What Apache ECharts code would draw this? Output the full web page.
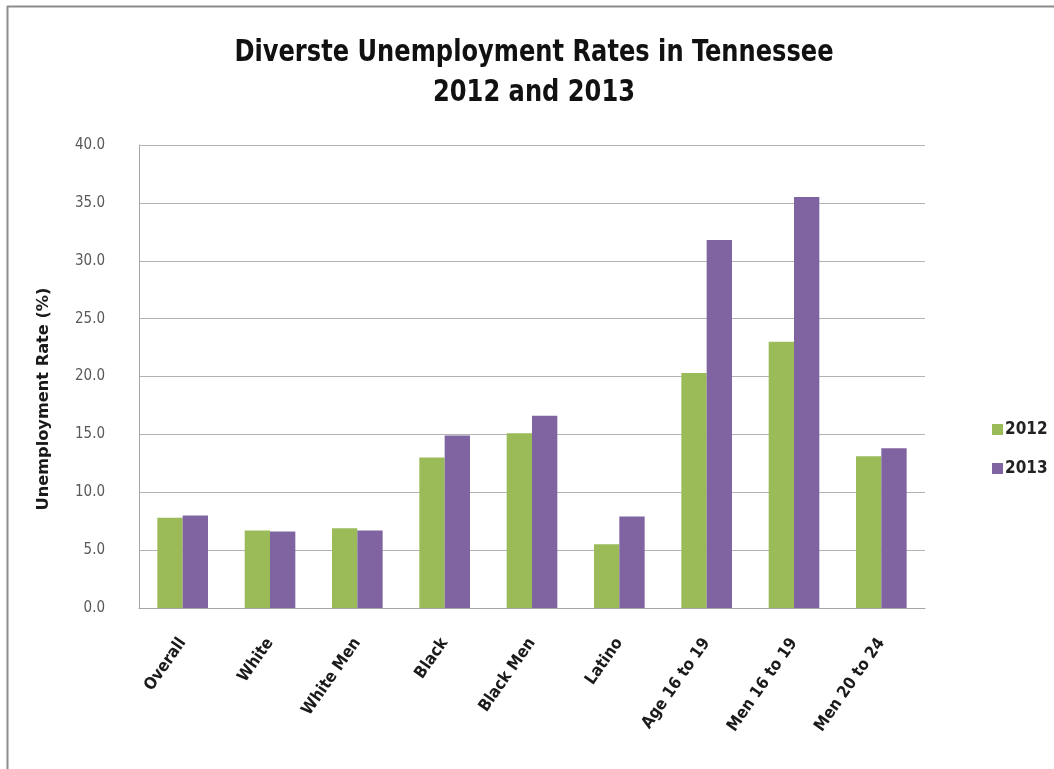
<!DOCTYPE html>
<html><head><meta charset="utf-8">
<script src="https://cdn.jsdelivr.net/npm/echarts@6/dist/echarts.min.js"></script>
<style>html,body{margin:0;padding:0;background:#fff}#c{width:1054px;height:769px}</style>
</head><body><div id="c"></div>
<script>
const categories = ['Overall','White','White Men','Black','Black Men','Latino','Age 16 to 19','Men 16 to 19','Men 20 to 24'];
const values2012 = [7.8, 6.7, 6.9, 13.0, 15.1, 5.5, 20.3, 23.0, 13.1];
const values2013 = [8.0, 6.6, 6.7, 14.9, 16.6, 7.9, 31.8, 35.5, 13.8];
const seriesNames = ['2012', '2013'];
const titleLines = ['Diverste Unemployment Rates in Tennessee', '2012 and 2013'];
const yAxisName = 'Unemployment Rate (%)';
const yTicks = {min: 0, max: 40, interval: 5};

const chart = echarts.init(document.getElementById('c'), null, {renderer: 'canvas'});
const condensed = "'DejaVu Sans Condensed','Open Sans',sans-serif";
chart.setOption({
  backgroundColor: '#fff',
  animation: false,
  legend: {
    orient: 'vertical', left: 987, top: 416, itemGap: 22,
    itemWidth: 11, itemHeight: 11, icon: 'rect',
    textStyle: {fontFamily: condensed, fontWeight: 'bold', fontSize: 17, color: '#222', padding: [0,0,0,-3]},
    data: seriesNames
  },
  grid: {left: 139, right: 129, top: 145, bottom: 161, containLabel: false},
  xAxis: {
    type: 'category', data: categories,
    axisLine: {lineStyle: {color: '#a6a6a6', width: 1}},
    axisTick: {show: false},
    axisLabel: {rotate: 55, interval: 0, margin: 32, fontFamily: condensed, fontWeight: 'bold', fontSize: 16.5, color: '#1a1a1a'}
  },
  yAxis: {
    type: 'value', min: yTicks.min, max: yTicks.max, interval: yTicks.interval,
    axisLine: {show: true, lineStyle: {color: '#a6a6a6', width: 1}},
    axisTick: {show: false},
    splitLine: {lineStyle: {color: '#b3b3b3', width: 1}},
    axisLabel: {margin: 34, fontFamily: condensed, fontSize: 15, color: '#595959', formatter: v => v.toFixed(1)}
  },
  series: [
    {name: seriesNames[0], type: 'bar', data: values2012, barGap: '0%', barCategoryGap: '42%', itemStyle: {color: '#9bbb59'}},
    {name: seriesNames[1], type: 'bar', data: values2013, barGap: '0%', barCategoryGap: '42%', itemStyle: {color: '#8064a2'}}
  ],
  graphic: [
    {type: 'line', shape: {x1: 7.5, y1: 6, x2: 7.5, y2: 769}, style: {stroke: '#8c8c8c', lineWidth: 2}},
    {type: 'line', shape: {x1: 7, y1: 6.5, x2: 1054, y2: 6.5}, style: {stroke: '#8c8c8c', lineWidth: 2}},
    {type: 'text', x: 534, y: 53, scaleX: 0.895,
     style: {text: titleLines[0], fontFamily: condensed, fontWeight: 'bold', fontSize: 30, fill: '#111', align: 'center', verticalAlign: 'middle'}},
    {type: 'text', x: 534, y: 93, scaleX: 0.895,
     style: {text: titleLines[1], fontFamily: condensed, fontWeight: 'bold', fontSize: 30, fill: '#111', align: 'center', verticalAlign: 'middle'}},
    {type: 'text', x: 44, y: 399, rotation: Math.PI / 2, scaleX: 1.2,
     style: {text: yAxisName, fontFamily: condensed, fontWeight: 'bold', fontSize: 15, fill: '#1a1a1a', align: 'center', verticalAlign: 'middle'}}
  ]
});
</script></body></html>
